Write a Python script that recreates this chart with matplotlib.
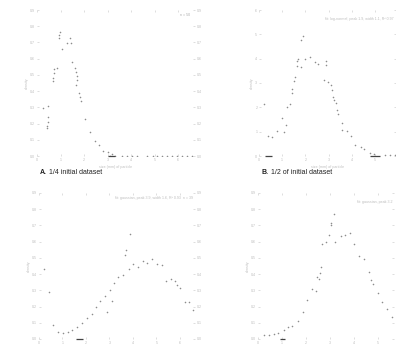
import matplotlib
matplotlib.use("Agg")
import matplotlib.pyplot as plt

plt.rcParams['font.family'] = ['Liberation Sans', 'DejaVu Sans']

# ---------------- data ----------------
a_x = [0.98, 0.95, 0.95, 1.40, 1.26, 1.45, 1.05, 1.48, 0.86, 0.74, 1.62, 1.67, 0.74, 0.69,
       1.70, 0.69, 1.71, 1.66, 1.79, 1.83, 1.87, 0.46, 0.27, 0.48, 0.46, 0.41, 0.41, 2.04,
       2.26, 2.47, 2.65, 2.82, 3.03, 3.18, 3.11, 3.32, 3.60, 3.82, 4.03, 4.24, 4.67, 4.95,
       5.09, 5.31, 5.52, 5.73, 5.94, 6.16, 6.37, 6.58]
a_y = [0.763, 0.744, 0.726, 0.729, 0.695, 0.699, 0.658, 0.578, 0.544, 0.535, 0.541, 0.516,
       0.510, 0.479, 0.493, 0.462, 0.469, 0.438, 0.387, 0.366, 0.341, 0.308, 0.298, 0.239,
       0.211, 0.187, 0.171, 0.226, 0.150, 0.094, 0.068, 0.033, 0.023, 0.010, 0.003, 0.003,
       0.003, 0.003, 0.003, 0.003, 0.003, 0.003, 0.003, 0.003, 0.003, 0.003, 0.003, 0.003,
       0.003, 0.003]

b_x = [0.22, 0.39, 0.57, 0.78, 1.08, 0.99, 1.15, 1.19, 1.34, 1.41, 1.44, 1.51, 1.54, 1.64,
       1.65, 1.69, 1.80, 1.82, 1.88, 2.00, 2.19, 2.40, 2.54, 2.88, 2.90, 2.80, 2.99, 3.09,
       3.15, 3.19, 3.23, 3.31, 3.38, 3.41, 3.58, 3.59, 3.79, 3.98, 4.13, 4.38, 4.53, 4.77,
       4.96, 5.43, 5.65, 5.86]
b_y = [2.12, 0.82, 0.79, 1.02, 0.97, 1.55, 1.27, 2.02, 2.13, 2.57, 2.77, 3.07, 3.25, 3.69,
       3.89, 4.00, 3.66, 4.78, 4.92, 3.98, 4.07, 3.85, 3.77, 3.91, 3.73, 3.11, 3.05, 2.91,
       2.73, 2.43, 2.30, 2.18, 1.89, 1.72, 1.36, 1.07, 1.04, 0.82, 0.45, 0.38, 0.29, 0.14,
       0.08, 0.04, 0.04, 0.04]

c_x = [0.23, 0.44, 0.61, 0.82, 1.03, 1.25, 1.39, 1.60, 1.82, 2.03, 2.24, 2.43, 2.60, 2.81,
       2.91, 3.02, 3.09, 3.20, 3.37, 3.59, 3.66, 3.70, 3.87, 3.84, 4.01, 4.20, 4.41, 4.58,
       4.80, 5.01, 5.22, 5.40, 5.60, 5.79, 5.86, 6.00, 6.21, 6.40, 6.57]
c_y = [0.430, 0.292, 0.086, 0.045, 0.039, 0.045, 0.055, 0.076, 0.100, 0.128, 0.154, 0.195,
       0.236, 0.265, 0.168, 0.302, 0.234, 0.343, 0.380, 0.395, 0.518, 0.549, 0.645, 0.432,
       0.462, 0.446, 0.483, 0.470, 0.493, 0.461, 0.456, 0.358, 0.368, 0.358, 0.333, 0.313,
       0.230, 0.230, 0.179]

d_x = [0.25, 0.46, 0.67, 0.83, 1.08, 1.25, 1.43, 1.67, 1.88, 2.05, 2.26, 2.40, 2.47, 2.54,
       2.57, 2.64, 2.67, 2.82, 2.95, 3.03, 3.05, 3.17, 3.20, 3.45, 3.61, 3.82, 4.00, 4.21,
       4.40, 4.61, 4.72, 4.79, 5.00, 5.18, 5.39, 5.58]
d_y = [0.025, 0.025, 0.031, 0.039, 0.055, 0.072, 0.080, 0.113, 0.168, 0.240, 0.306, 0.298,
       0.380, 0.368, 0.405, 0.442, 0.586, 0.600, 0.641, 0.703, 0.717, 0.769, 0.600, 0.635,
       0.641, 0.655, 0.586, 0.512, 0.491, 0.415, 0.364, 0.339, 0.282, 0.230, 0.183, 0.134]

# short dark range markers on the baseline (start, end)
a_marks = [(3.03, 3.32)]
b_marks = [(0.26, 0.56), (4.78, 5.22)]
c_marks = [(1.57, 1.87)]
d_marks = [(0.92, 1.13)]

xticks_a = [0, 1, 2, 3, 4, 5, 6]
xticks_b = [0, 1, 2, 3, 4, 5]
yticks_01 = [0.0, 0.1, 0.2, 0.3, 0.4, 0.5, 0.6, 0.7, 0.8, 0.9]
yticks_b = [0, 1, 2, 3, 4, 5, 6]

panel_labels = ["A.", "B."]
panel_texts = [" 1/4 initial dataset", " 1/2 of initial dataset"]
notes = ["n = 50", "fit: log-normal, peak 1.9, width 1.1, R² 0.97",
         "fit: gaussian, peak 3.9, width 1.6, R² 0.93  n = 39", "fit: gaussian, peak 3.2"]

# ---------------- figure ----------------
W, H = 396, 347
fig = plt.figure(figsize=(W / 100, H / 100), dpi=100)

def px_axes(l, r, t, b):
    return fig.add_axes([l / W, (H - b) / H, (r - l) / W, (b - t) / H])

tick_col = '#c4c4c4'
pt_col = '#8c8c8c'

def style(ax, xt, yt, xl, yl, rlab):
    ax.set_xticks(xt)
    ax.set_yticks(yt)
    ax.set_xlim(*xl)
    ax.set_ylim(*yl)
    for s in ax.spines.values():
        s.set_visible(False)
    ax.tick_params(axis='both', which='both', direction='in', length=1.2, width=0.4,
                   color=tick_col, labelcolor='#bdbdbd', labelsize=2.6, pad=1.2,
                   top=True, right=True, labelright=rlab)

axA = px_axes(37, 195, 10, 156)
axB = px_axes(259, 396, 10, 156)
axC = px_axes(39, 195, 193, 339)
axD = px_axes(258, 394, 193, 339)

specs = [
    (axA, a_x, a_y, a_marks, xticks_a, yticks_01, (0, 6.72), (0, 0.9), True),
    (axB, b_x, b_y, b_marks, xticks_b, yticks_b, (0, 5.9), (0, 6), False),
    (axC, c_x, c_y, c_marks, xticks_a, yticks_01, (0, 6.64), (0, 0.9), True),
    (axD, d_x, d_y, d_marks, xticks_b, yticks_01, (0, 5.67), (0, 0.9), False),
]
for ax, xs, ys, marks, xt, yt, xl, yl, rlab in specs:
    style(ax, xt, yt, xl, yl, rlab)
    ax.scatter(xs, ys, s=1.3, c=pt_col, linewidths=0, zorder=3)
    for x0, x1 in marks:
        ax.plot([x0, x1], [yl[0], yl[0]], color='#444444', lw=0.9, solid_capstyle='butt',
                zorder=4, clip_on=False)
    ax.set_ylabel('density', fontsize=2.6, color='#bdbdbd', labelpad=1)

axA.set_xlabel('size (mm) of particle', fontsize=2.6, color='#bdbdbd', labelpad=2.5)
axB.set_xlabel('size (mm) of particle', fontsize=2.6, color='#bdbdbd', labelpad=2.5)

axA.text(0.97, 0.98, notes[0], transform=axA.transAxes, ha='right', va='top',
         fontsize=2.6, color='#aaaaaa')
axB.text(0.98, 0.95, notes[1], transform=axB.transAxes, ha='right', va='top',
         fontsize=2.6, color='#bdbdbd')
axC.text(0.99, 0.98, notes[2], transform=axC.transAxes, ha='right', va='top',
         fontsize=2.6, color='#bdbdbd')
axD.text(0.99, 0.95, notes[3], transform=axD.transAxes, ha='right', va='top',
         fontsize=2.6, color='#bdbdbd')

# panel captions
for (xpx, lab, txt) in [(40, panel_labels[0], panel_texts[0]),
                        (262, panel_labels[1], panel_texts[1])]:
    t1 = fig.text(xpx / W, (H - 172) / H, lab, fontsize=5, fontweight='bold',
                  color='#222222', ha='left', va='center')
    fig.canvas.draw()
    bb = t1.get_window_extent()
    fig.text(bb.x1 / W, (H - 172) / H, txt, fontsize=5, color='#222222',
             ha='left', va='center')

fig.savefig('out.png', dpi=100)
